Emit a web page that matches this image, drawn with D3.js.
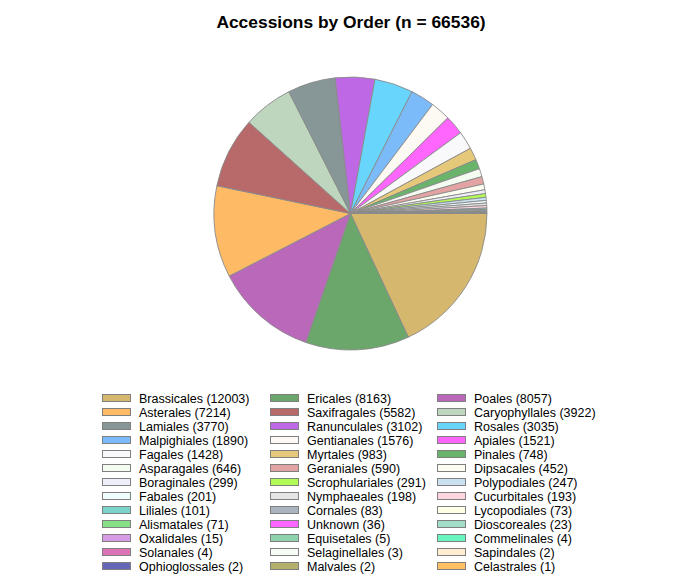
<!DOCTYPE html>
<html>
<head>
<meta charset="utf-8">
<script src="https://cdn.jsdelivr.net/npm/d3@7"></script>
<style>
  html, body { margin: 0; padding: 0; background: #ffffff; }
  svg { display: block; font-family: "Liberation Sans", Arial, sans-serif; }
</style>
</head>
<body>
<svg id="chart" width="700" height="584"></svg>
<script>
// Orders, sorted by accession count (largest first)
const orders = [
  "Brassicales", "Ericales", "Poales", "Asterales", "Saxifragales", "Caryophyllales",
  "Lamiales", "Ranunculales", "Rosales", "Malpighiales", "Gentianales", "Apiales",
  "Fagales", "Myrtales", "Pinales", "Asparagales", "Geraniales", "Dipsacales",
  "Boraginales", "Scrophulariales", "Polypodiales", "Fabales", "Nymphaeales", "Cucurbitales",
  "Liliales", "Cornales", "Lycopodiales", "Alismatales", "Unknown", "Dioscoreales",
  "Oxalidales", "Equisetales", "Commelinales", "Solanales", "Selaginellales", "Sapindales",
  "Ophioglossales", "Malvales", "Celastrales"
];
const counts = [
  12003, 8163, 8057, 7214, 5582, 3922,
  3770, 3102, 3035, 1890, 1576, 1521,
  1428, 983, 748, 646, 590, 452,
  299, 291, 247, 201, 198, 193,
  101, 83, 73, 71, 36, 23,
  15, 5, 4, 4, 3, 2,
  2, 2, 1
];
const fills = [
  "#D5B86E", "#6BA66B", "#BA68BA", "#FFBA66", "#B86A6A", "#BDD6BD",
  "#879696", "#BE68E6", "#68D6FC", "#7BBBFA", "#FDF9F3", "#FE66FE",
  "#F9F9FC", "#E6C87A", "#69B36B", "#F4FCF2", "#E3A3A3", "#FCFCF0",
  "#EFEFFC", "#B0FC55", "#C9E1F1", "#F0FDFD", "#E5E5E5", "#FFD6E0",
  "#7BD3CB", "#AAB4BE", "#FFFFE6", "#86E086", "#FF66FF", "#A2DDC8",
  "#D69CE6", "#8ED3AB", "#66F6BE", "#DC73B5", "#F6FCF6", "#FFEDD2",
  "#6666B8", "#B3B06B", "#FFC063"
];
const total = 66536;
const title = `Accessions by Order (n = ${total})`;

const svg = d3.select("#chart");

svg.append("text")
  .attr("x", 351).attr("y", 27.5)
  .attr("text-anchor", "middle")
  .attr("font-size", 17.4)
  .attr("font-weight", "bold")
  .attr("fill", "#000")
  .text(title);

// Pie: starts at 3 o'clock and runs clockwise, largest slice first
const data = orders.map((name, i) => ({ name, value: counts[i], fill: fills[i] }));
const pie = d3.pie()
  .value(d => d.value)
  .sort(null)
  .startAngle(Math.PI / 2)
  .endAngle(Math.PI / 2 + 2 * Math.PI);
const arc = d3.arc().innerRadius(0).outerRadius(136.5);

const g = svg.append("g").attr("transform", "translate(350.5,213.5)");
g.selectAll("path")
  .data(pie(data))
  .join("path")
  .attr("d", arc)
  .attr("fill", d => d.data.fill)
  .attr("stroke", "#8a8a8a")
  .attr("stroke-width", 0.9)
  .attr("stroke-linejoin", "round");

// Legend: three columns, row-major order
const cols = 3;
const colX = d3.scaleOrdinal().domain([0, 1, 2]).range([102, 270, 437]);
const rowY = d3.scaleLinear().domain([0, 1]).range([398, 412]);

const legend = svg.append("g");
const item = legend.selectAll("g")
  .data(data)
  .join("g")
  .attr("transform", (d, i) => `translate(${colX(i % cols)},${rowY(Math.floor(i / cols))})`);

item.append("rect")
  .attr("x", 0.5).attr("y", -3.5)
  .attr("width", 28).attr("height", 7)
  .attr("fill", d => d.fill)
  .attr("stroke", "#7f7f7f")
  .attr("stroke-width", 1);

item.append("text")
  .attr("x", 37).attr("y", 0)
  .attr("dy", "0.36em")
  .attr("font-size", 12.5)
  .attr("fill", "#000")
  .text(d => `${d.name} (${d.value})`);
</script>
</body>
</html>
